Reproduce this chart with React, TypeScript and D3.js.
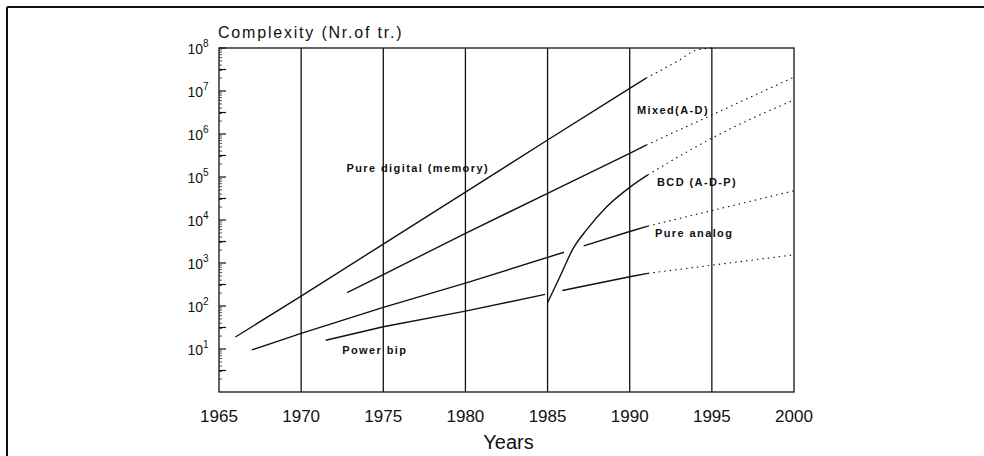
// @ts-nocheck
import React from "react";
import * as d3 from "d3";

// year ticks (vertical grid lines) and decade exponents
const yearTicks = [1965, 1970, 1975, 1980, 1985, 1990, 1995, 2000];
const decadeExps = [1, 2, 3, 4, 5, 6, 7, 8];

// series: [year, number of transistors]
const pureDigital = [[1966, 19], [1970, 170], [1975, 2750], [1980, 44500], [1985, 724000], [1990, 11500000], [1991, 20000000]];
const pureDigitalFuture = [[1991, 20000000], [1993, 52000000], [1994, 88000000], [1995, 100000000]];

const mixedAD = [[1972.8, 204], [1975, 537], [1980, 4900], [1985, 41700], [1990, 355000], [1991, 550000]];
const mixedADFuture = [[1991, 550000], [2000, 21000000]];

const pureAnalogEarly = [[1967, 9.5], [1970, 23], [1975, 93], [1980, 340], [1986, 1780]];
const pureAnalogLate = [[1987.2, 2500], [1990, 5400], [1991.1, 7200]];
const pureAnalogFuture = [[1991.1, 7200], [2000, 48000]];

const powerBipEarly = [[1971.5, 16], [1975, 33], [1980, 76], [1984.85, 186]];
const powerBipLate = [[1985.9, 229], [1990, 479], [1991.1, 575]];
const powerBipFuture = [[1991.1, 575], [2000, 1550]];

const bcd = [[1985, 120], [1985.75, 480], [1986.56, 2190], [1987.37, 5900], [1988.6, 20400], [1990, 57500], [1991.1, 112000]];
const bcdFuture = [[1991.1, 112000], [1993, 300000], [1995, 800000], [2000, 6200000]];

// annotation anchors: [text, year, value]
const labels = [
  ["Pure digital (memory)", 1972.76, 162000],
  ["Mixed(A-D)", 1990.44, 3630000],
  ["BCD (A-D-P)", 1991.66, 76000],
  ["Pure analog", 1991.54, 5000],
  ["Power bip", 1972.5, 9.2],
];

const App = () => {
  const svgRef = React.useRef(null);
  const width = 984, height = 456;
  const margin = { left: 219, right: 190, top: 48, bottom: 64 };

  React.useEffect(() => {
    const innerW = width - margin.left - margin.right;
    const innerH = height - margin.top - margin.bottom;

    const xScale = d3.scaleLinear().domain([1965, 2000]).range([0, innerW]);
    const yScale = d3.scaleLog().domain([1, 1e8]).range([innerH, 0]);

    const svgEl = d3.select(svgRef.current);
    svgEl.selectAll("*").remove();

    // outer frame (only top and left edges visible on the scan)
    svgEl.append("line").attr("x1", 7).attr("x2", width).attr("y1", 7).attr("y2", 7)
      .attr("stroke", "#111").attr("stroke-width", 2);
    svgEl.append("line").attr("x1", 7).attr("x2", 7).attr("y1", 7).attr("y2", height)
      .attr("stroke", "#111").attr("stroke-width", 2);

    const svg = svgEl.append("g")
      .attr("transform", `translate(${margin.left},${margin.top})`);

    // plot box
    svg.append("rect")
      .attr("width", innerW).attr("height", innerH)
      .attr("fill", "none").attr("stroke", "#111").attr("stroke-width", 1.3);

    // vertical grid lines
    svg.append("g").selectAll("line")
      .data(yearTicks.slice(1, -1))
      .enter().append("line")
      .attr("x1", d => xScale(d)).attr("x2", d => xScale(d))
      .attr("y1", 0).attr("y2", innerH)
      .attr("stroke", "#111").attr("stroke-width", 1.3);

    // y axis ticks, log minor ticks inside the box
    const minor = [];
    for (let e = 0; e < 8; e++) for (let m = 2; m < 10; m++) minor.push(m * Math.pow(10, e));
    svg.append("g").selectAll("line")
      .data(minor)
      .enter().append("line")
      .attr("x1", 0).attr("x2", 3)
      .attr("y1", d => yScale(d)).attr("y2", d => yScale(d))
      .attr("stroke", "#222").attr("stroke-width", 0.8);
    svg.append("g").selectAll("line")
      .data(decadeExps.map(e => Math.pow(10, e)).concat([0.5, 1.5, 2.5, 3.5, 4.5, 5.5, 6.5, 7.5].map(e => Math.pow(10, e))))
      .enter().append("line")
      .attr("x1", 0).attr("x2", 7)
      .attr("y1", d => yScale(d)).attr("y2", d => yScale(d))
      .attr("stroke", "#111").attr("stroke-width", 1.2);

    // y tick labels: 10 with a superscript exponent
    const yLab = svg.append("g")
      .attr("font-family", "'Liberation Sans', Arial, sans-serif")
      .attr("fill", "#111");
    decadeExps.forEach(e => {
      const y = yScale(Math.pow(10, e));
      yLab.append("text")
        .attr("x", -16).attr("y", y + 6)
        .attr("text-anchor", "end")
        .attr("font-size", 14)
        .text("10");
      yLab.append("text")
        .attr("x", -16).attr("y", y - 1)
        .attr("font-size", 10)
        .text(e);
    });

    // x tick labels
    svg.append("g").selectAll("text")
      .data(yearTicks)
      .enter().append("text")
      .attr("x", d => xScale(d)).attr("y", innerH + 30)
      .attr("text-anchor", "middle")
      .attr("font-family", "'Liberation Sans', Arial, sans-serif")
      .attr("font-size", 17)
      .attr("fill", "#111")
      .text(d => d);

    // axis titles
    svg.append("text")
      .attr("x", innerW / 2 + 2).attr("y", innerH + 57)
      .attr("text-anchor", "middle")
      .attr("font-family", "'Liberation Sans', Arial, sans-serif")
      .attr("font-size", 20)
      .attr("fill", "#111")
      .text("Years");
    svg.append("text")
      .attr("x", -1).attr("y", -10)
      .attr("font-family", "'Liberation Sans', Arial, sans-serif")
      .attr("font-size", 16)
      .attr("letter-spacing", 1.8)
      .attr("fill", "#111")
      .text("Complexity (Nr.of tr.)");

    const line = d3.line()
      .x(d => xScale(d[0]))
      .y(d => yScale(d[1]));
    const curved = d3.line()
      .x(d => xScale(d[0]))
      .y(d => yScale(d[1]))
      .curve(d3.curveMonotoneX);

    const solid = [pureDigital, mixedAD, pureAnalogEarly, pureAnalogLate, powerBipEarly, powerBipLate];
    svg.append("g").selectAll("path")
      .data(solid)
      .enter().append("path")
      .attr("d", line)
      .attr("fill", "none").attr("stroke", "#111").attr("stroke-width", 1.4);
    svg.append("path")
      .datum(bcd)
      .attr("d", curved)
      .attr("fill", "none").attr("stroke", "#111").attr("stroke-width", 1.4);

    const dotted = [mixedADFuture, pureAnalogFuture, powerBipFuture];
    svg.append("g").selectAll("path")
      .data(dotted)
      .enter().append("path")
      .attr("d", line)
      .attr("fill", "none").attr("stroke", "#111").attr("stroke-width", 1.1)
      .attr("stroke-dasharray", "1.5 4");
    svg.append("g").selectAll("path")
      .data([pureDigitalFuture, bcdFuture])
      .enter().append("path")
      .attr("d", curved)
      .attr("fill", "none").attr("stroke", "#111").attr("stroke-width", 1.1)
      .attr("stroke-dasharray", "1.5 4");

    // series annotations
    svg.append("g").selectAll("text")
      .data(labels)
      .enter().append("text")
      .attr("x", d => xScale(d[1])).attr("y", d => yScale(d[2]))
      .attr("dy", "0.35em")
      .attr("font-family", "'Liberation Sans', Arial, sans-serif")
      .attr("font-size", 11)
      .attr("font-weight", "bold")
      .attr("letter-spacing", 1.4)
      .attr("fill", "#111")
      .text(d => d[0]);
  }, []);

  return (
    <svg ref={svgRef} width={width} height={height}
      style={{ position: "absolute", left: 0, top: 0, background: "#fff" }} />
  );
};

export default App;
